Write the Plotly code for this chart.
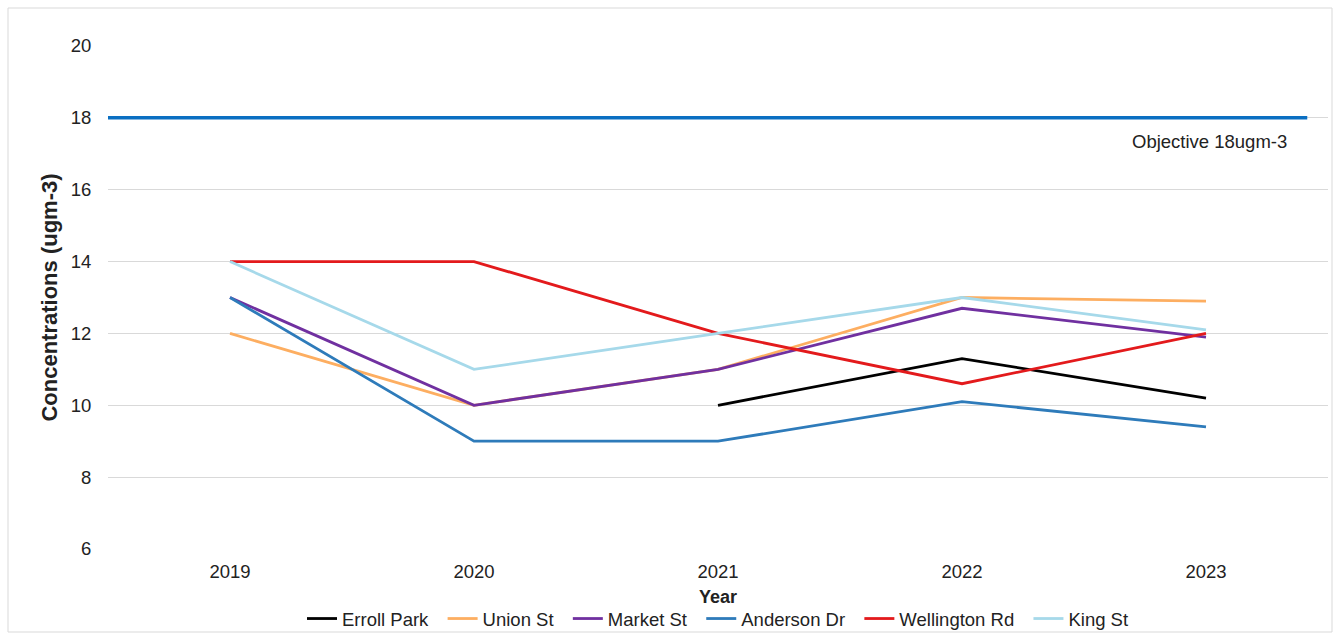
import plotly.graph_objects as go

years = ["2019", "2020", "2021", "2022", "2023"]
erroll_park = [None, None, 10.0, 11.3, 10.2]
union_st = [12.0, 10.0, 11.0, 13.0, 12.9]
market_st = [13.0, 10.0, 11.0, 12.7, 11.9]
anderson_dr = [13.0, 9.0, 9.0, 10.1, 9.4]
wellington_rd = [14.0, 14.0, 12.0, 10.6, 12.0]
king_st = [14.0, 11.0, 12.0, 13.0, 12.1]
objective = 18
y_ticks = [6, 8, 10, 12, 14, 16, 18, 20]

series = [
    ("Erroll Park", erroll_park, "#000000"),
    ("Union St", union_st, "#FDAE61"),
    ("Market St", market_st, "#7030A0"),
    ("Anderson Dr", anderson_dr, "#2E7BBA"),
    ("Wellington Rd", wellington_rd, "#E31A1C"),
    ("King St", king_st, "#A6D9EA"),
]

fig = go.Figure()
for i, (name, vals, col) in enumerate(series):
    label = name + ("\u2002" if i < len(series) - 1 else "")
    fig.add_trace(go.Scatter(x=years, y=vals, name=label, mode="lines",
                             line=dict(color=col, width=2.8), connectgaps=False))

# objective line
fig.add_shape(type="line", xref="paper", yref="y", x0=0, x1=0.983,
              y0=objective, y1=objective, line=dict(color="#0A6FC2", width=3.5))
fig.add_annotation(xref="paper", yref="y", x=0.968, y=objective - 0.67,
                   text="Objective 18ugm-3", showarrow=False, xanchor="right",
                   font=dict(size=18.5, color="#222222"))

# outer border
L, R, T, B = 108, 12, 46, 87
W, H = 1340, 636
pw, ph = W - L - R, H - T - B
fig.add_shape(type="rect", xref="paper", yref="paper",
              x0=(8 - L) / pw, x1=(1332 - L) / pw,
              y0=-(632 - (H - B)) / ph, y1=(H - B - 8) / ph,
              line=dict(color="#D9D9D9", width=1), layer="below")

# x-axis title
fig.add_annotation(xref="paper", yref="paper", x=0.5, y=-(597 - (H - B)) / ph,
                   yanchor="middle", text="<b>Year</b>", showarrow=False,
                   font=dict(size=18, color="#222222"))

fig.update_layout(
    width=W, height=H,
    margin=dict(l=L, r=R, t=T, b=B, autoexpand=False),
    plot_bgcolor="white", paper_bgcolor="white",
    font=dict(family="Liberation Sans, Arial, sans-serif", size=18.5, color="#222222"),
    showlegend=True,
    legend=dict(orientation="h", x=0.5, xanchor="center", xref="paper",
                y=(636 - 619) / 636, yanchor="middle", yref="container",
                font=dict(size=18.5), itemwidth=30, tracegroupgap=0,
                bgcolor="rgba(0,0,0,0)"),
    xaxis=dict(type="category", range=[-0.5, 4.5], showgrid=False, zeroline=False,
               ticks="outside", ticklen=6, tickcolor="rgba(0,0,0,0)",
               showline=False),
    yaxis=dict(range=[6, 20], tickvals=y_ticks, showgrid=True, gridcolor="#D9D9D9",
               gridwidth=1, zeroline=False, ticks="outside", ticklen=12,
               tickcolor="rgba(0,0,0,0)",
               title=dict(text="<b>Concentrations (ugm-3)</b>", font=dict(size=22), standoff=7)),
)

fig.write_html("out.html")
